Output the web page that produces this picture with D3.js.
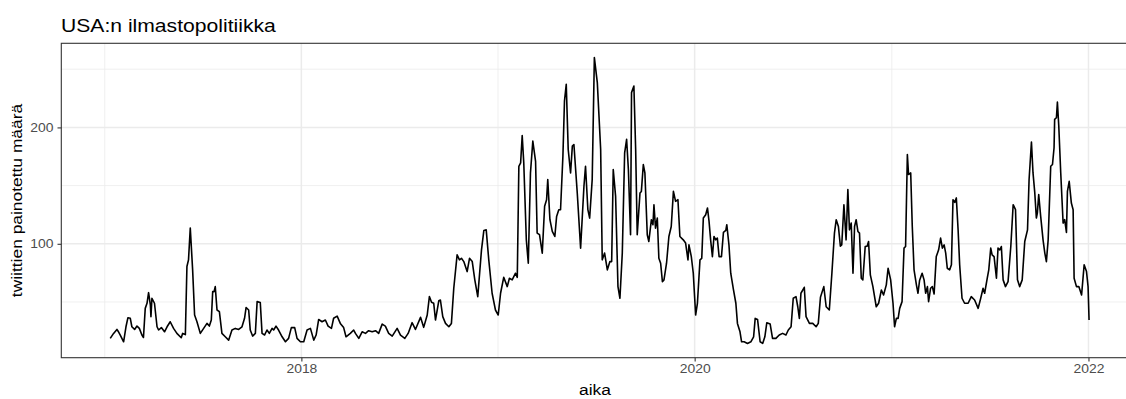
<!DOCTYPE html>
<html>
<head>
<meta charset="utf-8">
<script src="https://cdn.jsdelivr.net/npm/d3@7"></script>
<style>
  body { margin: 0; background: #fff; }
  svg { display: block; }
</style>
</head>
<body>
<div id="chart"></div>
<script>
// aika (decimal year) and twiittien painotettu määrä
const vuosi = [
  2017.028, 2017.045, 2017.062, 2017.070, 2017.079, 2017.096, 2017.108, 2017.118, 2017.130, 2017.138,
  2017.152, 2017.164, 2017.176, 2017.189, 2017.197, 2017.206, 2017.215, 2017.223, 2017.232, 2017.235,
  2017.240, 2017.253, 2017.266, 2017.274, 2017.288, 2017.304, 2017.317, 2017.333, 2017.350, 2017.367,
  2017.389, 2017.396, 2017.410, 2017.418, 2017.426, 2017.435, 2017.447, 2017.457, 2017.469, 2017.486,
  2017.503, 2017.520, 2017.532, 2017.542, 2017.549, 2017.556, 2017.562, 2017.571, 2017.583, 2017.596,
  2017.613, 2017.630, 2017.647, 2017.664, 2017.681, 2017.698, 2017.711, 2017.719, 2017.732, 2017.740,
  2017.752, 2017.766, 2017.775, 2017.791, 2017.800, 2017.813, 2017.825, 2017.837, 2017.851, 2017.859,
  2017.871, 2017.884, 2017.902, 2017.919, 2017.935, 2017.949, 2017.966, 2017.978, 2017.995, 2018.012,
  2018.029, 2018.046, 2018.063, 2018.075, 2018.088, 2018.105, 2018.122, 2018.136, 2018.153, 2018.164,
  2018.182, 2018.198, 2018.215, 2018.227, 2018.249, 2018.266, 2018.275, 2018.292, 2018.309, 2018.326,
  2018.342, 2018.360, 2018.377, 2018.393, 2018.411, 2018.427, 2018.444, 2018.462, 2018.487, 2018.504,
  2018.526, 2018.543, 2018.563, 2018.580, 2018.606, 2018.622, 2018.640, 2018.651, 2018.662, 2018.673,
  2018.682, 2018.699, 2018.707, 2018.719, 2018.733, 2018.750, 2018.763, 2018.775, 2018.792, 2018.804,
  2018.814, 2018.826, 2018.843, 2018.855, 2018.869, 2018.882, 2018.897, 2018.916, 2018.928, 2018.940,
  2018.953, 2018.970, 2018.987, 2019.001, 2019.013, 2019.029, 2019.047, 2019.058, 2019.072, 2019.089,
  2019.098, 2019.106, 2019.115, 2019.123, 2019.131, 2019.144, 2019.154, 2019.165, 2019.177, 2019.191,
  2019.199, 2019.211, 2019.225, 2019.237, 2019.247, 2019.253, 2019.264, 2019.276, 2019.289, 2019.298,
  2019.309, 2019.318, 2019.330, 2019.338, 2019.347, 2019.357, 2019.369, 2019.378, 2019.386, 2019.403,
  2019.420, 2019.437, 2019.445, 2019.457, 2019.466, 2019.479, 2019.490, 2019.505, 2019.522, 2019.530,
  2019.542, 2019.556, 2019.569, 2019.578, 2019.586, 2019.598, 2019.610, 2019.620, 2019.632, 2019.644,
  2019.654, 2019.663, 2019.674, 2019.679, 2019.691, 2019.700, 2019.708, 2019.722, 2019.729, 2019.739,
  2019.747, 2019.759, 2019.767, 2019.780, 2019.788, 2019.793, 2019.801, 2019.810, 2019.818, 2019.827,
  2019.836, 2019.844, 2019.857, 2019.869, 2019.881, 2019.892, 2019.903, 2019.915, 2019.925, 2019.942,
  2019.954, 2019.966, 2019.971, 2019.983, 2019.993, 2020.005, 2020.014, 2020.027, 2020.036, 2020.044,
  2020.056, 2020.065, 2020.073, 2020.081, 2020.090, 2020.098, 2020.107, 2020.115, 2020.124, 2020.136,
  2020.146, 2020.158, 2020.163, 2020.174, 2020.183, 2020.197, 2020.209, 2020.217, 2020.230, 2020.238,
  2020.251, 2020.268, 2020.285, 2020.299, 2020.307, 2020.319, 2020.332, 2020.345, 2020.356, 2020.366,
  2020.383, 2020.395, 2020.412, 2020.429, 2020.446, 2020.463, 2020.475, 2020.489, 2020.500, 2020.514,
  2020.523, 2020.531, 2020.539, 2020.556, 2020.565, 2020.582, 2020.599, 2020.616, 2020.627, 2020.638,
  2020.655, 2020.667, 2020.683, 2020.696, 2020.709, 2020.718, 2020.729, 2020.739, 2020.746, 2020.757,
  2020.768, 2020.777, 2020.785, 2020.794, 2020.803, 2020.811, 2020.819, 2020.828, 2020.836, 2020.845,
  2020.853, 2020.865, 2020.875, 2020.882, 2020.891, 2020.904, 2020.921, 2020.933, 2020.947, 2020.958,
  2020.972, 2020.981, 2020.994, 2021.006, 2021.014, 2021.023, 2021.032, 2021.040, 2021.052, 2021.062,
  2021.070, 2021.079, 2021.085, 2021.096, 2021.104, 2021.113, 2021.125, 2021.133, 2021.141, 2021.154,
  2021.164, 2021.172, 2021.181, 2021.187, 2021.197, 2021.206, 2021.215, 2021.226, 2021.238, 2021.248,
  2021.257, 2021.266, 2021.274, 2021.282, 2021.294, 2021.303, 2021.311, 2021.320, 2021.328, 2021.337,
  2021.345, 2021.357, 2021.370, 2021.388, 2021.404, 2021.421, 2021.439, 2021.452, 2021.464, 2021.472,
  2021.486, 2021.493, 2021.503, 2021.510, 2021.520, 2021.532, 2021.540, 2021.549, 2021.557, 2021.566,
  2021.578, 2021.591, 2021.605, 2021.617, 2021.629, 2021.639, 2021.650, 2021.663, 2021.676, 2021.690,
  2021.698, 2021.710, 2021.718, 2021.727, 2021.735, 2021.740, 2021.747, 2021.757, 2021.769, 2021.778,
  2021.786, 2021.795, 2021.808, 2021.817, 2021.825, 2021.828, 2021.837, 2021.842, 2021.849, 2021.859,
  2021.871, 2021.879, 2021.888, 2021.893, 2021.902, 2021.913, 2021.922, 2021.927, 2021.939, 2021.951,
  2021.965, 2021.978, 2021.990, 2021.998, 2022.003
];
const maara = [
  18.7, 23, 26.4, 24.4, 21.6, 15.8, 28.7, 36.5, 36, 28.7,
  26.4, 29.3, 27.3, 21.6, 19.5, 44.5, 48.9, 58, 47.5, 37.4,
  53.2, 48.9, 28.7, 25.9, 28, 24.4, 28.7, 33, 27.3, 23,
  19.3, 23, 22, 80.5, 86.2, 113.5, 77.6, 38.8, 33, 23,
  27.3, 31.6, 29.3, 34.5, 58.9, 58.9, 63.2, 43.1, 41.7, 23,
  20.1, 17.2, 25.9, 27.3, 26.4, 28.7, 36, 45.3, 43.1, 25.9,
  20.7, 23, 50.3, 49.5, 23, 21.6, 25.9, 23, 27.3, 25.9,
  29.3, 25.9, 20.1, 15.8, 18.7, 28, 28, 18.7, 15.8, 15.8,
  25.9, 27.3, 17.2, 21.6, 35, 33, 34.5, 29.3, 27.3, 36,
  37.9, 31.6, 28, 20.1, 23, 25.9, 23, 18.7, 24.4, 23,
  25.3, 24.4, 25.3, 23, 31, 29.3, 23, 20.7, 27.3, 21.6,
  18.7, 23, 32.2, 26.4, 36.8, 28.2, 38.8, 54.6, 49.8, 48.9,
  34.5, 51.1, 51.7, 37.4, 31.6, 28.7, 31.6, 61.8, 90.5, 86.2,
  87.5, 84.7, 76.1, 87.5, 84.7, 69, 54.6, 94.8, 111.5, 112,
  86.2, 57.5, 43.1, 38.8, 57.5, 71.2, 63.2, 70.4, 69, 74.7,
  71.2, 166.6, 169.5, 193, 169.5, 103.4, 83.3, 160.9, 188.2, 170.9,
  109.2, 107.8, 92, 132.2, 137.9, 155.2, 120.7, 110.6, 106.3, 123.5,
  129.3, 129.3, 175.3, 222.7, 237, 181, 160.9, 183.9, 185.3, 143.7,
  96.3, 149.4, 166.6, 129.3, 122.1, 155.2, 260, 238.5, 181, 86.2,
  92, 77.6, 84.7, 84.7, 163.8, 140.8, 63.2, 53.2, 92, 178.2,
  189.7, 163.8, 107.8, 229.9, 235.6, 181, 107.8, 143.7, 145, 168.1,
  160.9, 107.8, 102, 120.7, 116.4, 133.6, 113.5, 122.1, 87.6, 83.3,
  67.5, 69, 83.3, 106.3, 114.9, 145, 136.5, 137.9, 106.3, 103.4,
  100.6, 86.2, 99.1, 89, 74.7, 38.8, 48.9, 86.2, 87.5, 122.1,
  125, 130.8, 119.3, 103.4, 89, 106.3, 103.4, 104.9, 89, 89,
  109.8, 111.5, 116.4, 99.1, 74.7, 60.3, 48.9, 31.6, 24.4, 15.8,
  15.8, 14.4, 15.8, 20.1, 35.9, 35, 15.8, 14.4, 20.1, 32.2,
  31, 18.7, 18.7, 21.6, 23, 21.6, 25.9, 28.7, 53.2, 54.6,
  45.9, 35.9, 57.5, 62.6, 37.4, 31.6, 31.6, 28.7, 31.6, 54,
  63.2, 45.9, 43.1, 74.7, 109.2, 120.7, 114.9, 98, 99, 133.6,
  103.4, 146.6, 112, 117.8, 74.7, 114.9, 120.7, 110.6, 109.2, 70.4,
  69, 97.7, 98, 102, 73.3, 63.2, 45.9, 48.9, 60.3, 56,
  64.7, 79, 69, 48.9, 28.7, 35.9, 35.9, 44.5, 50.3, 96.3,
  97.7, 176.7, 159.5, 160.9, 114.9, 77.6, 64.7, 57.5, 68.4, 74.7,
  69, 57.5, 63.2, 50.3, 61.8, 63.2, 56.9, 89, 94.8, 104.9,
  96.3, 99, 92, 79, 77.6, 81.9, 137.9, 135.6, 139.4, 112,
  81.9, 53.2, 48.9, 48.9, 54.6, 51.7, 44.5, 53.2, 61.8, 57.5,
  71.2, 77.6, 96.3, 90.5, 89, 70.4, 96.3, 94.8, 97.7, 69,
  63.2, 67.5, 97.7, 133.6, 129.3, 69, 63.2, 69, 102, 112,
  155.2, 187.4, 160.9, 143.7, 122.1, 126.4, 142.3, 123.5, 103.4, 92,
  84.7, 103.4, 166.6, 168.1, 182.5, 206.9, 208.3, 221.8, 201.2, 160.9,
  117.8, 120.7, 109.8, 145, 153.7, 135, 129.3, 70.4, 63.2, 63.2,
  56, 81.9, 76.1, 63.2, 34.5
];
const xMajorVuodet = [2018, 2020, 2022];
const xMinorVuodet = [2017, 2019, 2021];
const yMajor = [100, 200];
const yMinor = [50, 150, 250];

const otsikko = 'USA:n ilmastopolitiikka';
const xNimi = 'aika';
const yNimi = 'twiittien painotettu määrä';

const width = 1126;
const height = 399;
const panel = { left: 61.3, right: 1138, top: 43.3, bottom: 357.7 };
const font = '"Liberation Sans", Arial, sans-serif';
// the original renderer sets glyphs a bit wider than Liberation Sans at the same height
const stretch = 1.13;

function toDate(v) {
  const yr = Math.floor(v);
  const start = Date.UTC(yr, 0, 1);
  const end = Date.UTC(yr + 1, 0, 1);
  return new Date(start + (v - yr) * (end - start));
}

function widen(sel) {
  sel.each(function () {
    const len = this.getComputedTextLength();
    d3.select(this)
      .attr('textLength', len * stretch)
      .attr('lengthAdjust', 'spacingAndGlyphs');
  });
}

const data = vuosi.map((v, i) => ({ date: toDate(v), value: maara[i] }));

// ggplot-style 5% expansion on both axes
const xExt = d3.extent(data, (d) => +d.date);
const xPad = (xExt[1] - xExt[0]) * 0.05;
const x = d3
  .scaleUtc()
  .domain([new Date(xExt[0] - xPad), new Date(xExt[1] + xPad)])
  .range([panel.left, panel.right]);

const yExt = d3.extent(data, (d) => d.value);
const yPad = (yExt[1] - yExt[0]) * 0.05;
const y = d3
  .scaleLinear()
  .domain([yExt[0] - yPad, yExt[1] + yPad])
  .range([panel.bottom, panel.top]);

const svg = d3
  .select('#chart')
  .append('svg')
  .attr('width', width)
  .attr('height', height)
  .style('font-family', font);

svg.append('rect').attr('width', width).attr('height', height).attr('fill', '#fff');

const grid = svg.append('g');

grid
  .selectAll('line.yminor')
  .data(yMinor)
  .join('line')
  .attr('x1', panel.left)
  .attr('x2', panel.right)
  .attr('y1', (d) => y(d))
  .attr('y2', (d) => y(d))
  .attr('stroke', '#ebebeb')
  .attr('stroke-width', 0.8);

grid
  .selectAll('line.xminor')
  .data(xMinorVuodet.map(toDate))
  .join('line')
  .attr('x1', (d) => x(d))
  .attr('x2', (d) => x(d))
  .attr('y1', panel.top)
  .attr('y2', panel.bottom)
  .attr('stroke', '#ebebeb')
  .attr('stroke-width', 0.8);

grid
  .selectAll('line.ymajor')
  .data(yMajor)
  .join('line')
  .attr('x1', panel.left)
  .attr('x2', panel.right)
  .attr('y1', (d) => y(d))
  .attr('y2', (d) => y(d))
  .attr('stroke', '#ebebeb')
  .attr('stroke-width', 1.5);

grid
  .selectAll('line.xmajor')
  .data(xMajorVuodet.map(toDate))
  .join('line')
  .attr('x1', (d) => x(d))
  .attr('x2', (d) => x(d))
  .attr('y1', panel.top)
  .attr('y2', panel.bottom)
  .attr('stroke', '#ebebeb')
  .attr('stroke-width', 1.5);

const line = d3
  .line()
  .x((d) => x(d.date))
  .y((d) => y(d.value));

svg
  .append('path')
  .datum(data)
  .attr('d', line)
  .attr('fill', 'none')
  .attr('stroke', '#000')
  .attr('stroke-width', 1.6)
  .attr('stroke-linejoin', 'round');

svg
  .append('rect')
  .attr('x', panel.left)
  .attr('y', panel.top)
  .attr('width', panel.right - panel.left)
  .attr('height', panel.bottom - panel.top)
  .attr('fill', 'none')
  .attr('stroke', '#333333')
  .attr('stroke-width', 1.1);

const xAxis = svg
  .append('g')
  .attr('transform', `translate(0,${panel.bottom})`)
  .call(
    d3
      .axisBottom(x)
      .tickValues(xMajorVuodet.map(toDate))
      .tickFormat(d3.utcFormat('%Y'))
      .tickSize(3.8)
      .tickPadding(3),
  );

const yAxis = svg
  .append('g')
  .attr('transform', `translate(${panel.left},0)`)
  .call(d3.axisLeft(y).tickValues(yMajor).tickSize(3.8).tickPadding(4));

[xAxis, yAxis].forEach((axis) => {
  axis.select('.domain').remove();
  axis.selectAll('.tick line').attr('stroke', '#333333').attr('stroke-width', 1.1);
  axis
    .selectAll('.tick text')
    .attr('fill', '#4d4d4d')
    .style('font-size', '12.3px')
    .style('font-family', font)
    .call(widen);
});

svg
  .append('text')
  .attr('x', 61)
  .attr('y', 31.5)
  .attr('fill', '#000')
  .style('font-size', '18.7px')
  .text(otsikko)
  .call(widen);

svg
  .append('text')
  .attr('x', 595)
  .attr('y', 395)
  .attr('text-anchor', 'middle')
  .attr('fill', '#000')
  .style('font-size', '15.4px')
  .text(xNimi)
  .call(widen);

svg
  .append('text')
  .attr('transform', `translate(22,${(panel.top + panel.bottom) / 2}) rotate(-90)`)
  .attr('text-anchor', 'middle')
  .attr('fill', '#000')
  .style('font-size', '15.4px')
  .text(yNimi)
  .call(widen);
</script>
</body>
</html>
